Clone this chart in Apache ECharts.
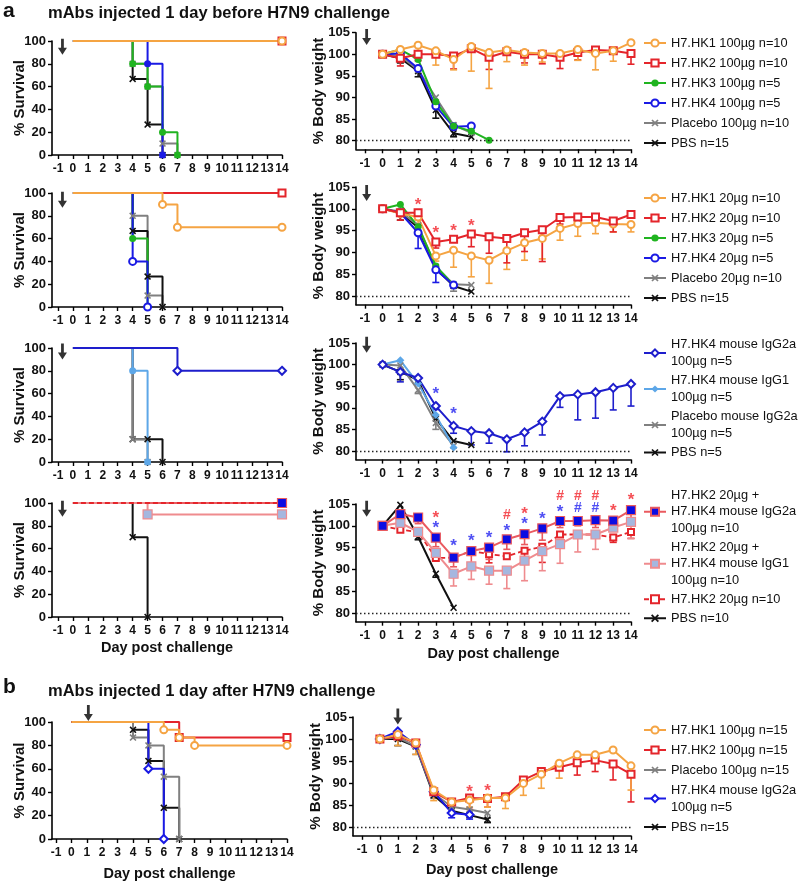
<!DOCTYPE html>
<html>
<head>
<meta charset="utf-8">
<script src="https://cdn.jsdelivr.net/npm/echarts@6/dist/echarts.min.js"></script>
<style>
html, body { margin: 0; padding: 0; background: #fff; }
#main { width: 800px; height: 886px; }
</style>
</head>
<body>
<div id="main"></div>
<script>
// ---------- data ----------
var days = [-1, 0, 1, 2, 3, 4, 5, 6, 7, 8, 9, 10, 11, 12, 13, 14];
var survTicks = [0, 20, 40, 60, 80, 100];
var weightTicks = [80, 85, 90, 95, 100, 105];

// a1: 100µg, 1 day before
var a1Names = ['H7.HK1 100µg n=10', 'H7.HK2 100µg n=10', 'H7.HK3 100µg n=5', 'H7.HK4 100µg n=5', 'Placebo 100µg n=10', 'PBS n=15'];
var a1SurvHK1 = [[0, 100], [14, 100]];
var a1SurvHK2 = [[0, 100], [14, 100]];
var a1SurvHK3 = [[0, 100], [4, 80], [5, 60], [6, 20], [7, 0]];
var a1SurvHK4 = [[0, 100], [5, 80], [6, 0]];
var a1SurvPlacebo = [[0, 100], [4, 80], [5, 60], [6, 10], [7, 0]];
var a1SurvPBS = [[0, 100], [4, 66.7], [5, 26.7], [6, 0]];
var a1WtHK1 = [100, 101.1, 102.1, 100.8, 98.8, 101.8, 100.4, 101, 100.4, 100.2, 100.2, 101.1, 100.2, 100.8, 102.7];
var a1WtHK1Low = [null, null, 99.5, 97.5, 96.4, 96.1, 92.1, 98.3, 97.5, 98.2, null, 98.6, 96.4, 98.4, null];
var a1WtHK2 = [100, 99.1, 100, 100, 99.6, 101.3, 99.3, 100.6, 100, 100, 99.3, 100.4, 101, 100.8, 100.2];
var a1WtHK2Low = [null, 97.3, 98.5, null, 96.6, null, 96.5, null, 98, 97.8, 96.7, 98.7, null, null, 97.7];
var a1WtHK3 = [100, 101.1, 98.8, 89, 83.4, 82.2, 80.1];
var a1WtHK4 = [100, 100.2, 96.7, 88, 83.2, 83.4];
var a1WtPlacebo = [100, 99.6, 96.4, 90, 83.6, 81.8];
var a1WtPBS = [100, 99.1, 96.1, 87.1, 81.7, 80.9];
var a1WtPBSLow = [null, 98, 94.8, 85.2, 80.9, null];

// a2: 20µg, 1 day before
var a2Names = ['H7.HK1 20µg n=10', 'H7.HK2 20µg n=10', 'H7.HK3 20µg n=5', 'H7.HK4 20µg n=5', 'Placebo 20µg n=10', 'PBS n=15'];
var a2SurvHK1 = [[0, 100], [6, 90], [7, 70], [14, 70]];
var a2SurvHK2 = [[0, 100], [14, 100]];
var a2SurvHK3 = [[0, 100], [4, 60], [5, 0]];
var a2SurvHK4 = [[0, 100], [4, 40], [5, 0]];
var a2SurvPlacebo = [[0, 100], [4, 80], [5, 10], [6, 0]];
var a2SurvPBS = [[0, 100], [4, 66.7], [5, 26.7], [6, 0]];
var a2WtHK1 = [100, 98.9, 98.1, 89.2, 90.5, 89.2, 88.2, 90.4, 92.2, 93.2, 95.5, 96.6, 96.8, 96.5, 96.4];
var a2WtHK1Low = [null, null, 96.5, 88, 86.6, 84.4, 82.9, 86.1, 88.2, 88.5, 92.8, 93.7, 94.3, 94.7, 94.7];
var a2WtHK2 = [100, 99.1, 99.1, 92.4, 93, 94.2, 93.6, 93.2, 94.5, 95.2, 98, 98.1, 98.1, 97.2, 98.7];
var a2WtHK2Low = [null, 97.4, 97.5, 91, null, 91.3, 89.8, 87.6, 90.2, 87.9, 96.5, null, null, 94.7, null];
var a2WtHK3 = [100, 101, 95.9, 86.9, 82.5];
var a2WtHK4 = [100, 99.1, 94.5, 86, 82.5];
var a2WtHK4Low = [null, null, 90.9, 83.1, null];
var a2WtPlacebo = [100, 99.4, 96.2, 86.7, 82.7, 82.5];
var a2WtPlaceboLow = [null, null, null, null, 81.1, null];
var a2WtPBS = [100, 99.1, 95.7, 86.3, 82.3, 81];
var a2WtPBSLow = [null, 97.4, null, null, null, null];
var a2RedMarks = [[2, 101.8, '*'], [3, 95.2, '*'], [4, 95.7, '*'], [5, 97, '*']];

// a3: mouse isotypes
var a3Names = ['H7.HK4 mouse IgG2a\n100µg n=5', 'H7.HK4 mouse IgG1\n100µg n=5', 'Placebo mouse IgG2a\n100µg n=5', 'PBS n=5'];
var a3SurvG2a = [[0, 100], [7, 80], [14, 80]];
var a3SurvG1 = [[0, 100], [4, 80], [5, 0]];
var a3SurvPlacebo = [[0, 100], [4, 20], [5, 0]];
var a3SurvPBS = [[0, 100], [4, 20], [5, 20], [6, 0]];
var a3WtG2a = [100, 98.3, 96.9, 90.4, 85.8, 84.6, 84.1, 82.7, 84.3, 86.8, 92.7, 93.1, 93.6, 94.6, 95.5];
var a3WtG2aLow = [null, 96, 95.5, 89.6, 84.1, 81.4, 81.8, 79.8, 81.2, 83.7, 90.1, 87.2, 87.6, 89.5, 90.4];
var a3WtG1 = [100, 101, 95.6, 88.3, 80.8];
var a3WtPlacebo = [100, 99.8, 94.1, 86.5, 81.2];
var a3WtPlaceboLow = [null, null, 93.3, 85, null];
var a3WtPBS = [100, 98.3, 96.4, 87.5, 82.3, 81.4];
var a3WtPBSLow = [null, 96.5, null, null, null, null];
var a3BlueMarks = [[3, 94.1, '*'], [4, 89.3, '*']];

// a4: combinations
var a4Names = ['H7.HK2 20µg +\nH7.HK4 mouse IgG2a\n100µg n=10', 'H7.HK2 20µg +\nH7.HK4 mouse IgG1\n100µg n=10', 'H7.HK2 20µg n=10', 'PBS n=10'];
var a4SurvG2a = [[0, 100], [14, 100]];
var a4SurvG1 = [[0, 100], [5, 90], [14, 90]];
var a4SurvHK2 = [[0, 100], [14, 100]];
var a4SurvPBS = [[0, 100], [4, 70], [5, 0]];
var a4WtG2a = [100, 102.7, 101.9, 97.3, 92.7, 94.2, 95, 96.9, 98.1, 99.4, 101.1, 101.1, 101.3, 101.2, 103.6];
var a4WtG2aLow = [null, 101, 100.5, 95.2, 90.6, 91.5, 92.3, 94.6, 95.7, 96.7, 99.6, 100, 99.6, 100.5, 101.4];
var a4WtG1 = [100, 100.7, 98.6, 93.8, 89, 90.7, 89.7, 89.7, 92, 94.2, 95.8, 98, 98, 99.6, 100.9];
var a4WtG1Low = [null, null, null, 92.2, 86.2, 87.7, 86.6, 85.6, 87.4, 89.7, 91.4, 94, 94.6, null, 97.1];
var a4WtHK2 = [100, 99.1, 98.6, 92.6, 92.7, 94.2, 93.5, 93, 94.3, 95.2, 98, 98, 98, 97.3, 98.6];
var a4WtHK2Low = [null, null, null, null, null, null, 91.5, null, 92.6, 91.6, null, null, null, 96.2, 97.1];
var a4WtPBS = [100, 104.8, 97.5, 89, 81.2];
var a4WtPBSLow = [null, null, 96.8, 88.2, null];
var a4RedMarks = [[3, 102.7, '*'], [7, 102.5, '#'], [8, 103.5, '*'], [10, 106.8, '#'], [11, 106.8, '#'], [12, 106.8, '#'], [13, 104.2, '*'], [14, 106.7, '*']];
var a4BlueMarks = [[3, 100.3, '*'], [4, 96.1, '*'], [5, 97.3, '*'], [6, 98, '*'], [7, 99.6, '*'], [8, 101.2, '*'], [9, 102.5, '*'], [10, 104, '*'], [11, 104, '#'], [12, 104, '#']];

// b: 1 day after
var bNames = ['H7.HK1 100µg n=15', 'H7.HK2 100µg n=15', 'Placebo 100µg n=15', 'H7.HK4 mouse IgG2a\n100µg n=5', 'PBS n=15'];
var bSurvHK1 = [[0, 100], [6, 93.3], [7, 86.7], [8, 80], [14, 80]];
var bSurvHK2 = [[0, 100], [7, 86.7], [14, 86.7]];
var bSurvPlacebo = [[0, 100], [4, 86.7], [5, 80], [6, 53.3], [7, 0]];
var bSurvG2a = [[0, 100], [5, 60], [6, 0]];
var bSurvPBS = [[0, 100], [4, 93.3], [5, 66.7], [6, 26.7], [7, 0]];
var bWtHK1 = [100, 101, 99.1, 88.4, 85.7, 86.1, 86.6, 86.6, 89.9, 92, 94.5, 96.4, 96.4, 97.5, 93.9];
var bWtHK1Low = [null, 98.5, 96.5, 86, null, 84.5, 84.5, 84.2, 87.2, 88.8, 91.1, null, null, null, 88.4];
var bWtHK2 = [100, 100.7, 99.1, 88, 85.7, 86.6, 86.5, 86.9, 90.7, 92.6, 93.6, 94.6, 95.2, 94.3, 92];
var bWtHK2Low = [null, null, null, null, null, 84, 84.5, null, null, null, null, 91.8, 92.6, 90.7, 85.7];
var bWtPlacebo = [100, 100.4, 98.3, 87.6, 84.6, 84, 83.2];
var bWtPlaceboLow = [null, null, 96.5, 86.5, 83.2, null, 82];
var bWtG2a = [100, 101.7, 98.7, 88, 83.2, 82.8];
var bWtG2aLow = [null, null, null, null, 82.1, 81.8];
var bWtPBS = [100, 100, 98.3, 87.2, 83.7, 82.7, 81.7];
var bWtPBSLow = [null, 98.5, null, null, null, null, 81];
var bRedMarks = [[5, 88.8, '*'], [6, 89, '*']];

// ---------- style ----------
var FONT = '"Liberation Sans", Arial, Helvetica, sans-serif';
var C = {
	orange: '#F5A443', red: '#E4252B', green: '#20B420', blue: '#1A1AE4', gray: '#808080', black: '#111111',
	dkblue: '#1E1ECC', ltblue: '#5DA7E8', salmon: '#EA5A5F', pink: '#EF8B8E', navy: '#0C0CE2', lav: '#A5B7DF',
	starRed: '#F2232A', starBlue: '#2323F0'
};
var X_SYM = 'path://M0,1.6 L1.6,0 L5,3.4 L8.4,0 L10,1.6 L6.6,5 L10,8.4 L8.4,10 L5,6.6 L1.6,10 L0,8.4 L3.4,5 Z';
var ARROW = 'path://M2.9,0 L5.5,0 L5.5,9 L8.4,9 L4.2,16 L0,9 L2.9,9 Z';

var option = {
	animation: false,
	backgroundColor: '#fff',
	textStyle: { fontFamily: FONT },
	title: [
		{ text: 'a', left: 3, top: 1, padding: 0, textStyle: { fontSize: 21, fontWeight: 'bold', color: '#111', fontFamily: FONT } },
		{ text: 'mAbs injected 1 day before H7N9 challenge', left: 48, top: 5, padding: 0, textStyle: { fontSize: 16.5, fontWeight: 'bold', color: '#111', fontFamily: FONT } },
		{ text: 'b', left: 3, top: 677, padding: 0, textStyle: { fontSize: 21, fontWeight: 'bold', color: '#111', fontFamily: FONT } },
		{ text: 'mAbs injected 1 day after H7N9 challenge', left: 48, top: 683, padding: 0, textStyle: { fontSize: 16.5, fontWeight: 'bold', color: '#111', fontFamily: FONT } }
	],
	grid: [], xAxis: [], yAxis: [], legend: [], series: []
};

var axisLineCfg = { show: true, onZero: false, lineStyle: { color: '#000', width: 1.6 } };
var tickLine = { color: '#000', width: 1.4 };
var nameStyle = { fontSize: 14.5, fontWeight: 'bold', color: '#111', fontFamily: FONT };

function addGrid(box, xmin, ymin, ymax, isSurv, xName, xNameGap) {
	var g = option.grid.length;
	option.grid.push({ left: box[0], top: box[1], width: box[2], height: box[3] });
	option.xAxis.push({
		gridIndex: g, type: 'value', min: xmin, max: 14,
		splitLine: { show: false }, axisLine: axisLineCfg,
		axisTick: { show: true, customValues: days, length: 4, lineStyle: tickLine },
		axisLabel: { customValues: days, margin: 8, fontSize: 12, fontWeight: 'bold', color: '#111', fontFamily: FONT },
		name: xName || '', nameLocation: 'middle', nameGap: xNameGap || 25, nameMoveOverlap: false, nameTextStyle: nameStyle
	});
	var ticks = isSurv ? survTicks : weightTicks;
	option.yAxis.push({
		gridIndex: g, type: 'value', min: ymin, max: ymax,
		splitLine: { show: false }, axisLine: axisLineCfg,
		axisTick: { show: true, customValues: ticks, length: 4, lineStyle: tickLine },
		axisLabel: { customValues: ticks, margin: 6, fontSize: 13, fontWeight: 'bold', color: '#111', fontFamily: FONT },
		name: isSurv ? '% Survival' : '% Body weight', nameLocation: 'middle', nameGap: isSurv ? 25 : 30, nameMoveOverlap: false,
		nameTextStyle: { fontSize: 15, fontWeight: 'bold', color: '#111', fontFamily: FONT }
	});
	return g;
}

function km(g, name, pts, color, sym, extra) {
	var s = {
		type: 'line', name: name, xAxisIndex: g, yAxisIndex: g, step: 'end',
		symbol: sym, symbolSize: 7, color: color,
		lineStyle: { width: 2, color: color }, itemStyle: { color: color, borderWidth: 1.6 },
		data: pts.map(function (p, i) { return i === 0 ? { value: p, symbol: 'none' } : p; }),
		z: 3
	};
	return Object.assign(s, extra || {});
}

function wt(g, name, vals, color, sym, extra) {
	var s = {
		type: 'line', name: name, xAxisIndex: g, yAxisIndex: g,
		symbol: sym, symbolSize: 7, color: color,
		lineStyle: { width: 2, color: color }, itemStyle: { color: color, borderWidth: 1.6 },
		data: vals.map(function (v, i) { return [i, v]; }),
		z: 3
	};
	return Object.assign(s, extra || {});
}

function errRender(params, api) {
	var p1 = api.coord([api.value(0), api.value(1)]);
	var p2 = api.coord([api.value(0), api.value(2)]);
	var st = { stroke: api.visual('color'), lineWidth: 1.6 };
	return {
		type: 'group', children: [
			{ type: 'line', shape: { x1: p1[0], y1: p1[1], x2: p2[0], y2: p2[1] }, style: st },
			{ type: 'line', shape: { x1: p2[0] - 3.5, y1: p2[1], x2: p2[0] + 3.5, y2: p2[1] }, style: st }
		]
	};
}

function err(g, vals, lows, color) {
	var d = [];
	lows.forEach(function (lo, i) { if (lo != null) d.push([i, vals[i], lo]); });
	return { type: 'custom', xAxisIndex: g, yAxisIndex: g, renderItem: errRender, itemStyle: { color: color }, data: d, z: 2, silent: true };
}

function marks(g, pts, color) {
	return {
		type: 'scatter', xAxisIndex: g, yAxisIndex: g, clip: false, silent: true, symbolSize: 1,
		itemStyle: { color: 'rgba(0,0,0,0)' }, z: 4,
		label: {
			show: true, position: 'inside', color: color, fontFamily: FONT, fontWeight: 'bold',
			formatter: function (p) { return p.data.t; }
		},
		data: pts.map(function (m) {
			return { value: [m[0], m[1]], t: m[2], label: m[2] === '*' ? { fontSize: 17, offset: [0, 4] } : { fontSize: 14 } };
		})
	};
}

function arrow(g, x, y) {
	return { type: 'scatter', xAxisIndex: g, yAxisIndex: g, clip: false, silent: true, symbol: ARROW, symbolSize: [9, 16], itemStyle: { color: '#000' }, data: [[x, y]], z: 5 };
}

function refLine() {
	return { silent: true, symbol: 'none', label: { show: false }, lineStyle: { type: [1.5, 2.5], color: '#222', width: 1.3 }, data: [{ yAxis: 80 }] };
}

function addLegend(prefix, names, top, gap, lh, ih) {
	option.legend.push({
		orient: 'vertical', left: 643, top: top, itemGap: gap, itemWidth: 22, itemHeight: ih || 9,
		selectedMode: false, padding: 0,
		data: names.map(function (n) { return prefix + '|' + n; }),
		formatter: function (n) { return n.split('|')[1]; },
		textStyle: { fontSize: 12.8, lineHeight: lh, color: '#111', fontFamily: FONT }
	});
}

function P(prefix, n) { return prefix + '|' + n; }
var S = option.series;

// ---------- panel a1 ----------
var g = addGrid([52, 41, 230, 114], -1.4, 0, 100, true);
var w = addGrid([356, 32.7, 275, 116.6], -1.5, 78, 105, false);
var N = function (i) { return P('a1', a1Names[i]); };
S.push(wt(w, N(5), a1WtPBS, C.black, X_SYM, { markLine: refLine() }), err(w, a1WtPBS, a1WtPBSLow, C.black));
S.push(wt(w, N(4), a1WtPlacebo, C.gray, X_SYM));
S.push(wt(w, N(3), a1WtHK4, C.blue, 'emptyCircle'));
S.push(wt(w, N(2), a1WtHK3, C.green, 'circle'));
S.push(wt(w, N(1), a1WtHK2, C.red, 'emptyRect'), err(w, a1WtHK2, a1WtHK2Low, C.red));
S.push(wt(w, N(0), a1WtHK1, C.orange, 'emptyCircle'), err(w, a1WtHK1, a1WtHK1Low, C.orange));
S.push(km(g, N(5), a1SurvPBS, C.black, X_SYM), km(g, N(4), a1SurvPlacebo, C.gray, X_SYM),
	km(g, N(2), a1SurvHK3, C.green, 'circle'), km(g, N(3), a1SurvHK4, C.blue, 'circle'),
	km(g, N(1), a1SurvHK2, C.red, 'emptyRect'), km(g, N(0), a1SurvHK1, C.orange, 'emptyCircle'));
S.push(arrow(g, -0.7, 95), arrow(w, -0.9, 104));
addLegend('a1', a1Names, 34.5, 3, 17);

// ---------- panel a2 ----------
g = addGrid([52, 193, 230, 114], -1.4, 0, 100, true);
w = addGrid([356, 187, 275, 117.7], -1.5, 78, 105, false);
N = function (i) { return P('a2', a2Names[i]); };
S.push(wt(w, N(5), a2WtPBS, C.black, X_SYM, { markLine: refLine() }), err(w, a2WtPBS, a2WtPBSLow, C.black));
S.push(wt(w, N(4), a2WtPlacebo, C.gray, X_SYM), err(w, a2WtPlacebo, a2WtPlaceboLow, C.gray));
S.push(wt(w, N(2), a2WtHK3, C.green, 'circle'));
S.push(wt(w, N(3), a2WtHK4, C.blue, 'emptyCircle'), err(w, a2WtHK4, a2WtHK4Low, C.blue));
S.push(wt(w, N(0), a2WtHK1, C.orange, 'emptyCircle'), err(w, a2WtHK1, a2WtHK1Low, C.orange));
S.push(wt(w, N(1), a2WtHK2, C.red, 'emptyRect'), err(w, a2WtHK2, a2WtHK2Low, C.red));
S.push(marks(w, a2RedMarks, C.starRed));
S.push(km(g, N(4), a2SurvPlacebo, C.gray, X_SYM), km(g, N(5), a2SurvPBS, C.black, X_SYM),
	km(g, N(2), a2SurvHK3, C.green, 'circle'), km(g, N(3), a2SurvHK4, C.blue, 'emptyCircle'),
	km(g, N(1), a2SurvHK2, C.red, 'emptyRect'), km(g, N(0), a2SurvHK1, C.orange, 'emptyCircle'));
S.push(arrow(g, -0.7, 94), arrow(w, -0.9, 103.6));
addLegend('a2', a2Names, 189.5, 3, 17);

// ---------- panel a3 ----------
g = addGrid([52, 348, 230, 114], -1.4, 0, 100, true);
w = addGrid([356, 343, 275, 116.6], -1.5, 78, 105, false);
N = function (i) { return P('a3', a3Names[i]); };
S.push(wt(w, N(3), a3WtPBS, C.black, X_SYM, { markLine: refLine() }), err(w, a3WtPBS, a3WtPBSLow, C.black));
S.push(wt(w, N(2), a3WtPlacebo, C.gray, X_SYM), err(w, a3WtPlacebo, a3WtPlaceboLow, C.gray));
S.push(wt(w, N(1), a3WtG1, C.ltblue, 'diamond', { symbolSize: 8 }));
S.push(wt(w, N(0), a3WtG2a, C.dkblue, 'emptyDiamond', { symbolSize: 8 }), err(w, a3WtG2a, a3WtG2aLow, C.dkblue));
S.push(marks(w, a3BlueMarks, C.starBlue));
S.push(km(g, N(3), a3SurvPBS, C.black, X_SYM), km(g, N(2), a3SurvPlacebo, C.gray, X_SYM),
	km(g, N(1), a3SurvG1, C.ltblue, 'circle'), km(g, N(0), a3SurvG2a, C.dkblue, 'emptyDiamond', { symbolSize: 8 }));
S.push(arrow(g, -0.7, 97), arrow(w, -0.9, 104.6));
addLegend('a3', a3Names, 336, 2, 17);

// ---------- panel a4 ----------
g = addGrid([52, 503, 230, 114], -1.4, 0, 100, true, 'Day post challenge', 23);
w = addGrid([356, 504, 275, 117.7], -1.5, 78, 105, false, 'Day post challenge', 25);
N = function (i) { return P('a4', a4Names[i]); };
var g2aStyle = { symbolSize: 9, lineStyle: { width: 2, color: C.salmon }, itemStyle: { color: C.navy, borderColor: C.salmon, borderWidth: 1.2 } };
var g1Style = { symbolSize: 9, lineStyle: { width: 2, color: C.pink }, itemStyle: { color: C.lav, borderColor: C.pink, borderWidth: 1.2 } };
var hk2Style = { symbolSize: 6, lineStyle: { width: 1.8, color: C.red, type: [5, 3] } };
S.push(wt(w, N(3), a4WtPBS, C.black, X_SYM, { markLine: refLine() }), err(w, a4WtPBS, a4WtPBSLow, C.black));
S.push(wt(w, N(2), a4WtHK2, C.red, 'emptyRect', hk2Style), err(w, a4WtHK2, a4WtHK2Low, C.red));
S.push(wt(w, N(1), a4WtG1, C.pink, 'rect', g1Style), err(w, a4WtG1, a4WtG1Low, C.pink));
S.push(wt(w, N(0), a4WtG2a, C.salmon, 'rect', g2aStyle), err(w, a4WtG2a, a4WtG2aLow, C.salmon));
S.push(marks(w, a4RedMarks, C.starRed), marks(w, a4BlueMarks, C.starBlue));
S.push(km(g, N(3), a4SurvPBS, C.black, X_SYM), km(g, N(0), a4SurvG2a, C.salmon, 'rect', g2aStyle),
	km(g, N(1), a4SurvG1, C.pink, 'rect', g1Style), km(g, N(2), a4SurvHK2, C.red, 'none', hk2Style));
S.push(arrow(g, -0.7, 95), arrow(w, -0.9, 103.9));
addLegend('a4', a4Names, 487, 2.5, 16.5, 10);

// ---------- panel b ----------
g = addGrid([52, 722, 235, 117], -1.26, 0, 100, true, 'Day post challenge', 27);
w = addGrid([353, 717, 278, 118.8], -1.5, 78, 105, false, 'Day post challenge', 27);
N = function (i) { return P('b', bNames[i]); };
S.push(wt(w, N(4), bWtPBS, C.black, X_SYM, { markLine: refLine() }), err(w, bWtPBS, bWtPBSLow, C.black));
S.push(wt(w, N(2), bWtPlacebo, C.gray, X_SYM), err(w, bWtPlacebo, bWtPlaceboLow, C.gray));
S.push(wt(w, N(3), bWtG2a, C.blue, 'emptyDiamond', { symbolSize: 8 }), err(w, bWtG2a, bWtG2aLow, C.blue));
S.push(wt(w, N(1), bWtHK2, C.red, 'emptyRect'), err(w, bWtHK2, bWtHK2Low, C.red));
S.push(wt(w, N(0), bWtHK1, C.orange, 'emptyCircle'), err(w, bWtHK1, bWtHK1Low, C.orange));
S.push(marks(w, bRedMarks, C.starRed));
S.push(km(g, N(4), bSurvPBS, C.black, X_SYM), km(g, N(2), bSurvPlacebo, C.gray, X_SYM),
	km(g, N(3), bSurvG2a, C.blue, 'emptyDiamond', { symbolSize: 8 }),
	km(g, N(1), bSurvHK2, C.red, 'emptyRect'), km(g, N(0), bSurvHK1, C.orange, 'emptyCircle'));
S.push(arrow(g, 1.1, 107.7), arrow(w, 1, 105.1));
addLegend('b', bNames, 721.5, 3, 17);

var chart = echarts.init(document.getElementById('main'));
chart.setOption(option);
</script>
</body>
</html>
